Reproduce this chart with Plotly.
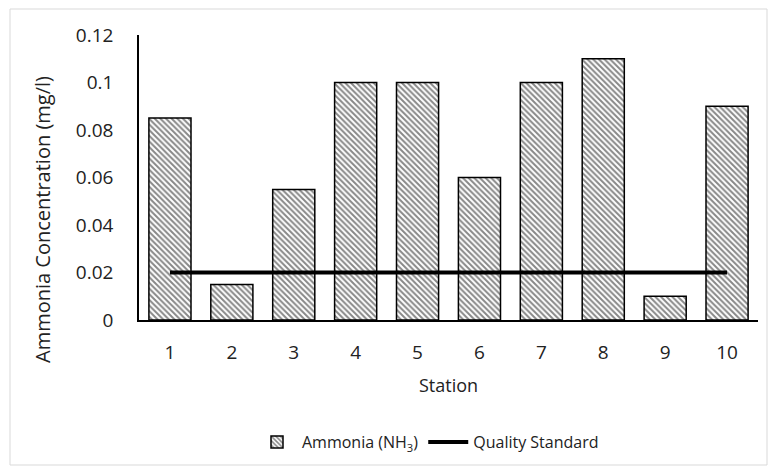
import plotly.graph_objects as go

stations = ["1", "2", "3", "4", "5", "6", "7", "8", "9", "10"]
ammonia = [0.085, 0.015, 0.055, 0.10, 0.10, 0.06, 0.10, 0.11, 0.01, 0.09]
quality_standard = [0.02, 0.02, 0.02, 0.02, 0.02, 0.02, 0.02, 0.02, 0.02, 0.02]
y_ticks = [0, 0.02, 0.04, 0.06, 0.08, 0.1, 0.12]
y_tick_labels = ["0", "0.02", "0.04", "0.06", "0.08", "0.1", "0.12"]

FONT = "Open Sans"

fig = go.Figure()
fig.add_trace(go.Bar(
    x=stations, y=ammonia, name="Ammonia (NH<sub>3</sub>)",
    marker=dict(color="white", line=dict(color="black", width=1.5),
                pattern=dict(shape="\\", fgcolor="#111111", bgcolor="white",
                             size=4, solidity=0.5, fillmode="overlay")),
))
fig.add_trace(go.Scatter(
    x=stations, y=quality_standard, name="Quality Standard", mode="lines",
    line=dict(color="black", width=4),
))

L, R, T, B = 139, 11, 35, 151
W, H = 769, 471
pw, ph = W - L - R, H - T - B

def px(x):
    return (x - L) / pw

def py(y):
    return (H - B - y) / ph

fig.update_layout(
    width=W, height=H,
    margin=dict(l=L, r=R, t=T, b=B),
    plot_bgcolor="white", paper_bgcolor="white",
    bargap=0.32,
    font=dict(family=FONT, color="#222222"),
    showlegend=True,
    legend=dict(orientation="h", x=px(428), y=py(442), xanchor="center", yanchor="middle",
                font=dict(size=16, family=FONT), traceorder="normal", itemwidth=40),
    xaxis=dict(type="category", showline=True, linecolor="black", linewidth=1.5,
               showgrid=False, ticks="", tickfont=dict(size=19), ticklabelstandoff=14,
               title=dict(text="Station", font=dict(size=18), standoff=16)),
    yaxis=dict(range=[0, 0.12], showline=True, linecolor="black", linewidth=1.5,
               showgrid=False, zeroline=False, ticks="", tickvals=y_ticks,
               ticktext=y_tick_labels, tickfont=dict(size=19), ticklabelstandoff=20),
    shapes=[dict(type="rect", xref="paper", yref="paper",
                 x0=px(10), x1=px(767), y0=py(465), y1=py(9),
                 line=dict(color="#d9d9d9", width=1), layer="below")],
    annotations=[dict(text="Ammonia Concentration (mg/l)", xref="paper", yref="paper",
                      x=px(42), y=py(220), textangle=-90, showarrow=False,
                      xanchor="center", yanchor="middle", font=dict(size=20, family=FONT))],
)

fig.write_html("out.html")
